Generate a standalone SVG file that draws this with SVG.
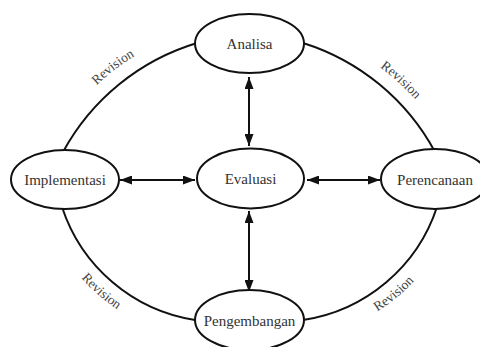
<svg xmlns="http://www.w3.org/2000/svg" width="480" height="347" viewBox="0 0 480 347">
<style>
.node ellipse{fill:#fff;stroke:#111;stroke-width:2}
.node text{font-family:"Liberation Serif","Times New Roman",serif;font-size:15px;fill:#333;text-anchor:middle}
.arc{fill:none;stroke:#111;stroke-width:2}
.arrow{fill:none;stroke:#111;stroke-width:2;marker-start:url(#ah);marker-end:url(#ah)}
.rev{font-family:"Liberation Serif","Times New Roman",serif;font-size:13.5px;fill:#444}
</style>
<defs>
<marker id="ah" markerWidth="12" markerHeight="9" refX="12" refY="4.5" orient="auto-start-reverse" markerUnits="userSpaceOnUse">
<path d="M0,0 L12,4.5 L0,9 z" fill="#111"/>
</marker>
<path id="p1" d="M 35.5 177.9 A 240 240 0 0 1 240.1 20.9"/>
<path id="p2" d="M 277.9 23.5 A 240 240 0 0 1 468.6 197.1"/>
<path id="p3" d="M 43 209.8 A 184 184 0 0 0 190.2 337.7"/>
<path id="p4" d="M 304 338.3 A 184 184 0 0 0 453.8 213.5"/>
</defs>
<rect width="480" height="347" fill="#fff"/>
<g id="connectors">
<path class="arc" d="M 63 152 A 227 227 0 0 1 197 43"/>
<path class="arc" d="M 303 43 A 227 227 0 0 1 435 152"/>
<path class="arc" d="M 62 207 A 167 167 0 0 0 195 320"/>
<path class="arc" d="M 303 320 A 167 167 0 0 0 437 207"/>
<line class="arrow" x1="249" y1="77" x2="249" y2="146"/>
<line class="arrow" x1="249" y1="211" x2="249" y2="292"/>
<line class="arrow" x1="120" y1="180" x2="195" y2="180"/>
<line class="arrow" x1="307" y1="180" x2="380" y2="180"/>
<text class="rev"><textPath href="#p1" startOffset="50%" text-anchor="middle">Revision</textPath></text>
<text class="rev"><textPath href="#p2" startOffset="50%" text-anchor="middle">Revision</textPath></text>
<text class="rev"><textPath href="#p3" startOffset="50%" text-anchor="middle">Revision</textPath></text>
<text class="rev"><textPath href="#p4" startOffset="50%" text-anchor="middle">Revision</textPath></text>
</g>
<g id="analisa" class="node"><ellipse cx="249.5" cy="43.5" rx="54.5" ry="29.5"/><text x="249.5" y="49">Analisa</text></g>
<g id="evaluasi" class="node"><ellipse cx="250.5" cy="178.5" rx="53.5" ry="30"/><text x="250.5" y="184">Evaluasi</text></g>
<g id="implementasi" class="node"><ellipse cx="65" cy="179.5" rx="54" ry="29.5"/><text x="65" y="185">Implementasi</text></g>
<g id="perencanaan" class="node"><ellipse cx="435" cy="179" rx="54" ry="30"/><text x="435" y="184.5">Perencanaan</text></g>
<g id="pengembangan" class="node"><ellipse cx="249.5" cy="320" rx="54.5" ry="30"/><text x="249.5" y="325.5">Pengembangan</text></g>
</svg>
